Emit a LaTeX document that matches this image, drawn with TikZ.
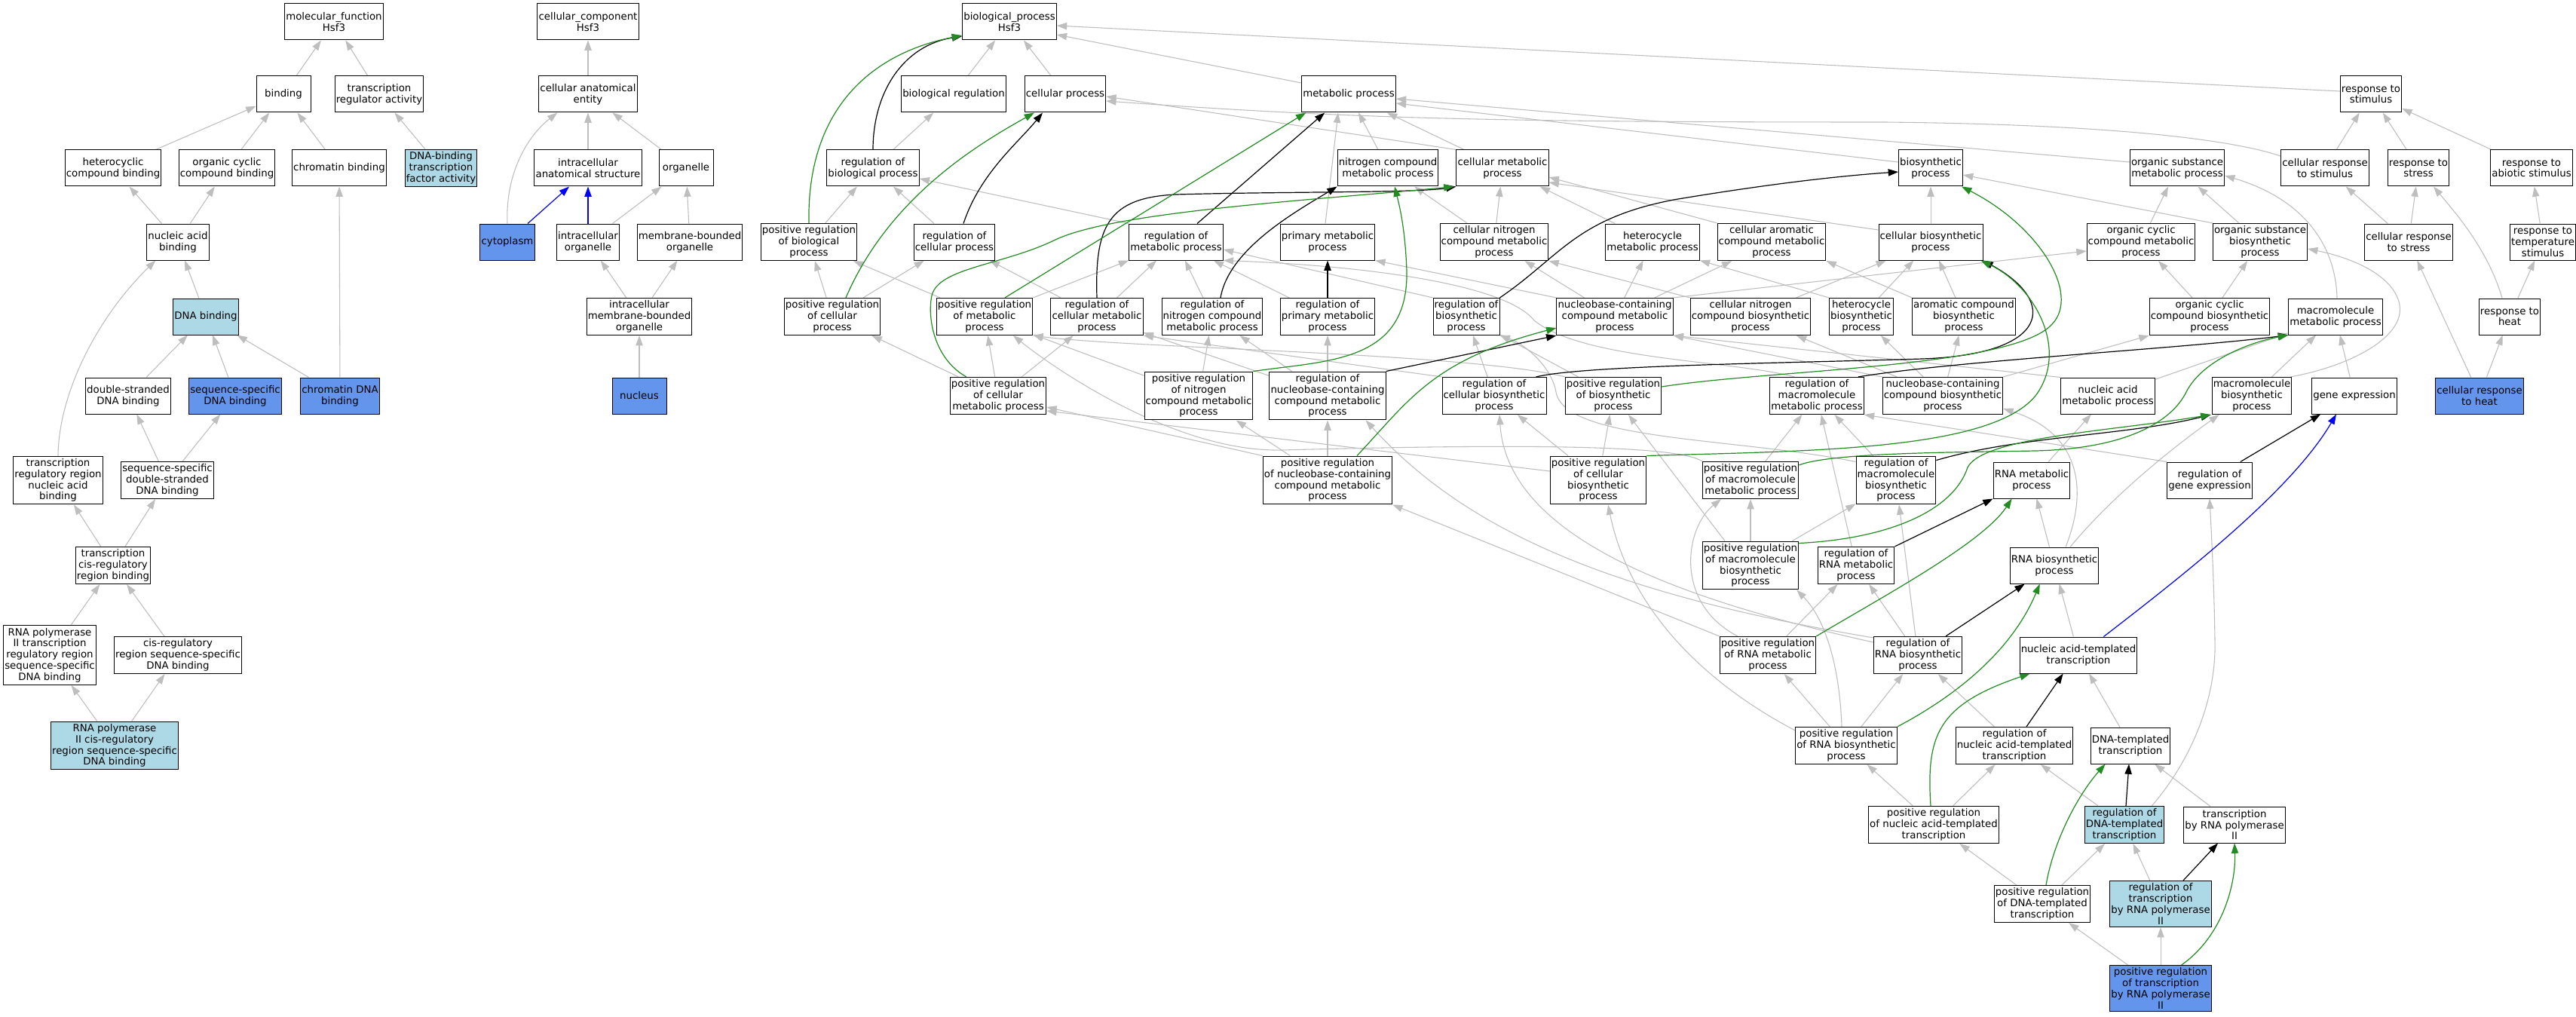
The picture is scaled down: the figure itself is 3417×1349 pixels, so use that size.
\documentclass[tikz,border=0pt]{standalone}
\usepackage{fontspec}
\setmainfont{DejaVu Sans}
\usetikzlibrary{arrows.meta,calc}
\definecolor{lightblue}{HTML}{ADD8E6}
\definecolor{cfblue}{HTML}{6495ED}
\definecolor{edgegray}{HTML}{BEBEBE}
\definecolor{fgreen}{HTML}{228B22}
\pgfdeclarelayer{bg}
\pgfsetlayers{bg,main}
\begin{document}
\begin{tikzpicture}[x=0.75bp,y=-0.75bp,
  box/.style={draw=black,line width=0.75bp,fill=white,rectangle,align=center,
    inner xsep=1.2bp,inner ysep=2.5bp,minimum width=54bp,minimum height=36bp,
    font=\fontsize{10bp}{11.1bp}\selectfont},
  lb/.style={box,fill=lightblue},
  db/.style={box,fill=cfblue},
  isa/.style={draw=edgegray,line width=0.8bp,-{Triangle[length=10bp,width=7bp]}},
  regk/.style={draw=black,line width=0.9bp,-{Triangle[length=10bp,width=7bp]}},
  preg/.style={draw=fgreen,line width=0.9bp,-{Triangle[length=10bp,width=7bp]}},
  partof/.style={draw=blue,line width=0.9bp,-{Triangle[length=10bp,width=7bp]}}]
\useasboundingbox (0,0) rectangle (3417,1349);
% ---------- R1
\node[box] (mf) at (443,29) {molecular\_function\\Hsf3};
\node[box] (cc) at (780,29) {cellular\_component\\Hsf3};
\node[box] (bp) at (1339,29) {biological\_process\\Hsf3};
% ---------- R2
\node[box] (bind) at (376,125) {binding};
\node[box] (tra) at (503,125) {transcription\\regulator activity};
\node[box] (cae) at (780,125) {cellular anatomical\\entity};
\node[box] (breg) at (1265,125) {biological regulation};
\node[box] (cp) at (1413,125) {cellular process};
\node[box] (mp) at (1789,125) {metabolic process};
\node[box] (rts) at (3145,125) {response to\\stimulus};
% ---------- R3
\node[box] (hcb) at (150,223) {heterocyclic\\compound binding};
\node[box] (ocb) at (301,223) {organic cyclic\\compound binding};
\node[box] (chb) at (450,223) {chromatin binding};
\node[lb] (dbtf) at (585,223) {DNA-binding\\transcription\\factor activity};
\node[box] (ias) at (780,223) {intracellular\\anatomical structure};
\node[box] (org) at (910,223) {organelle};
\node[box] (rbp) at (1158,223) {regulation of\\biological process};
\node[box] (ncmp) at (1841,223) {nitrogen compound\\metabolic process};
\node[box] (cmp) at (1993,223) {cellular metabolic\\process};
\node[box] (bsp) at (2561,223) {biosynthetic\\process};
\node[box] (osmp) at (2888,223) {organic substance\\metabolic process};
\node[box] (crs) at (3084,223) {cellular response\\to stimulus};
\node[box] (rst) at (3208,223) {response to\\stress};
\node[box] (ras) at (3358,223) {response to\\abiotic stimulus};
% ---------- R4
\node[box] (nab) at (236,321) {nucleic acid\\binding};
\node[db] (cyto) at (673,321) {cytoplasm};
\node[box] (io) at (780,321) {intracellular\\organelle};
\node[box] (mbo) at (915,321) {membrane-bounded\\organelle};
\node[box] (prbp) at (1073,321) {positive regulation\\of biological\\process};
\node[box] (rcp) at (1266,321) {regulation of\\cellular process};
\node[box] (rmp) at (1560,321) {regulation of\\metabolic process};
\node[box] (pmp) at (1761,321) {primary metabolic\\process};
\node[box] (cncmp) at (1982,321) {cellular nitrogen\\compound metabolic\\process};
\node[box] (hmp) at (2192,321) {heterocycle\\metabolic process};
\node[box] (camp) at (2350,321) {cellular aromatic\\compound metabolic\\process};
\node[box] (cbp) at (2561,321) {cellular biosynthetic\\process};
\node[box] (occmp) at (2840,321) {organic cyclic\\compound metabolic\\process};
\node[box] (osbp) at (2998,321) {organic substance\\biosynthetic\\process};
\node[box] (crstress) at (3195,321) {cellular response\\to stress};
\node[box] (rtemp) at (3373,321) {response to\\temperature\\stimulus};
% ---------- R5
\node[lb] (dnab) at (273,420) {DNA binding};
\node[box] (imbo) at (848,420) {intracellular\\membrane-bounded\\organelle};
\node[box] (prcp) at (1104,420) {positive regulation\\of cellular\\process};
\node[box] (prmp) at (1306,420) {positive regulation\\of metabolic\\process};
\node[box] (rcmp) at (1455,420) {regulation of\\cellular metabolic\\process};
\node[box] (rncmp) at (1608,420) {regulation of\\nitrogen compound\\metabolic process};
\node[box] (rpmp) at (1761,420) {regulation of\\primary metabolic\\process};
\node[box] (rbsp) at (1945,420) {regulation of\\biosynthetic\\process};
\node[box] (nccmp) at (2142,420) {nucleobase-containing\\compound metabolic\\process};
\node[box] (cncbp) at (2322,420) {cellular nitrogen\\compound biosynthetic\\process};
\node[box] (hbp) at (2469,420) {heterocycle\\biosynthetic\\process};
\node[box] (acbp) at (2605,420) {aromatic compound\\biosynthetic\\process};
\node[box] (occbp) at (2931,420) {organic cyclic\\compound biosynthetic\\process};
\node[box] (mmp) at (3098,420) {macromolecule\\metabolic process};
\node[box] (rheat) at (3329,420) {response to\\heat};
% ---------- R6
\node[box] (dsdb) at (170,525) {double-stranded\\DNA binding};
\node[db] (ssdb) at (312,525) {sequence-specific\\DNA binding};
\node[db] (cdb) at (451,525) {chromatin DNA\\binding};
\node[db] (nuc) at (848,525) {nucleus};
\node[box] (prcmp) at (1324,525) {positive regulation\\of cellular\\metabolic process};
\node[box] (prncmp) at (1590,525) {positive regulation\\of nitrogen\\compound metabolic\\process};
\node[box] (rnccmp) at (1761,525) {regulation of\\nucleobase-containing\\compound metabolic\\process};
\node[box] (rcbp) at (1982,525) {regulation of\\cellular biosynthetic\\process};
\node[box] (prbsp) at (2140,525) {positive regulation\\of biosynthetic\\process};
\node[box] (rmmp) at (2410,525) {regulation of\\macromolecule\\metabolic process};
\node[box] (ncbp) at (2577,525) {nucleobase-containing\\compound biosynthetic\\process};
\node[box] (nam) at (2796,525) {nucleic acid\\metabolic process};
\node[box] (mbp) at (2987,525) {macromolecule\\biosynthetic\\process};
\node[box] (ge) at (3123,525) {gene expression};
\node[db] (crheat) at (3289,525) {cellular response\\to heat};
% ---------- R7
\node[box] (trr) at (77,637) {transcription\\regulatory region\\nucleic acid\\binding};
\node[box] (ssds) at (222,637) {sequence-specific\\double-stranded\\DNA binding};
\node[box] (prnccmp) at (1761,637) {positive regulation\\of nucleobase-containing\\compound metabolic\\process};
\node[box] (prcbp) at (2120,637) {positive regulation\\of cellular\\biosynthetic\\process};
\node[box] (prmmp) at (2322,637) {positive regulation\\of macromolecule\\metabolic process};
\node[box] (rmbp) at (2515,637) {regulation of\\macromolecule\\biosynthetic\\process};
\node[box] (rnamp) at (2695,637) {RNA metabolic\\process};
\node[box] (rge) at (2931,637) {regulation of\\gene expression};
% ---------- R8
\node[box] (tcis) at (150,750) {transcription\\cis-regulatory\\region binding};
\node[box] (prmbp) at (2322,750) {positive regulation\\of macromolecule\\biosynthetic\\process};
\node[box] (rrnamp) at (2462,750) {regulation of\\RNA metabolic\\process};
\node[box] (rnabp) at (2725,750) {RNA biosynthetic\\process};
% ---------- R9
\node[box] (rp2tr) at (66,869) {RNA polymerase\\II transcription\\regulatory region\\sequence-specific\\DNA binding};
\node[box] (cisr) at (236,869) {cis-regulatory\\region sequence-specific\\DNA binding};
\node[box] (prrnamp) at (2345,869) {positive regulation\\of RNA metabolic\\process};
\node[box] (rrnabp) at (2544,869) {regulation of\\RNA biosynthetic\\process};
\node[box] (natt) at (2757,869) {nucleic acid-templated\\transcription};
% ---------- R10
\node[lb] (rp2cis) at (152,989) {RNA polymerase\\II cis-regulatory\\region sequence-specific\\DNA binding};
\node[box] (prrnabp) at (2449,989) {positive regulation\\of RNA biosynthetic\\process};
\node[box] (rnatt) at (2672,989) {regulation of\\nucleic acid-templated\\transcription};
\node[box] (dtt) at (2826,989) {DNA-templated\\transcription};
% ---------- R11
\node[box] (prnatt) at (2565,1094) {positive regulation\\of nucleic acid-templated\\transcription};
\node[lb] (rdtt) at (2818,1094) {regulation of\\DNA-templated\\transcription};
\node[box] (trp2) at (2964,1094) {transcription\\by RNA polymerase\\II};
% ---------- R12
\node[box] (prdtt) at (2709,1199) {positive regulation\\of DNA-templated\\transcription};
\node[lb] (rtrp2) at (2866,1199) {regulation of\\transcription\\by RNA polymerase\\II};
% ---------- R13
\node[db] (prtrp2) at (2866,1311) {positive regulation\\of transcription\\by RNA polymerase\\II};

\begin{pgfonlayer}{bg}
\fill[white] (0,0) rectangle (3417,1349);
% ===== molecular function
\foreach \a/\b in {bind/mf,tra/mf,hcb/bind,ocb/bind,chb/bind,dbtf/tra,nab/hcb,nab/ocb,
  dnab/nab,dsdb/dnab,ssdb/dnab,cdb/dnab,cdb/chb,ssds/dsdb,ssds/ssdb,tcis/trr,tcis/ssds,
  rp2tr/tcis,cisr/tcis,rp2cis/rp2tr,rp2cis/cisr}
  \draw[isa] (\a) -- (\b);
\draw[isa] (trr.north) .. controls (78,520) and (130,420) .. ($(nab.south west)+(12,0)$);
% ===== cellular component
\foreach \a/\b in {cae/cc,ias/cae,org/cae,io/org,mbo/org,imbo/io,imbo/mbo,nuc/imbo}
  \draw[isa] (\a) -- (\b);
\draw[isa] (cyto.north) .. controls (670,230) and (700,180) .. ($(cae.south west)+(25,0)$);
\draw[partof] ($(cyto.north)+(27,0)$) -- ($(ias.south)+(-25,0)$);
\draw[partof] (io) -- (ias);
% ===== biological process, straight is_a
\foreach \a/\b in {breg/bp,cp/bp,rbp/breg,prbp/rbp,rcp/rbp,prcp/prbp,prcp/rcp,prmp/prbp,
  prmp/rmp,rcmp/rcp,rcmp/rmp,rncmp/rmp,rpmp/rmp,ncmp/mp,cmp/mp,crs/rts,rst/rts,ras/rts,
  cncmp/ncmp,cncmp/cmp,hmp/cmp,cbp/bsp,occmp/osmp,osbp/osmp,crstress/crs,crstress/rst,
  rtemp/ras,nccmp/cncmp,nccmp/hmp,nccmp/camp,cncbp/cbp,hbp/cbp,acbp/cbp,occbp/occmp,
  occbp/osbp,rheat/rtemp,crheat/rheat,crheat/crstress,
  prcmp/prcp,prcmp/prmp,prcmp/rcmp,prncmp/prmp,prncmp/rncmp,rnccmp/rcmp,rnccmp/rncmp,
  rnccmp/rpmp,rcbp/rbsp,prbsp/rbsp,ncbp/cncbp,ncbp/hbp,ncbp/acbp,nam/mmp,mbp/mmp,ge/mmp,
  prnccmp/prncmp,prnccmp/rnccmp,prcbp/prbsp,prcbp/rcbp,prmmp/rmmp,rmbp/rmmp,rnamp/nam,
  prmbp/prmmp,prmbp/rmbp,rrnamp/rmmp,rnabp/rnamp,prrnamp/rrnamp,rrnabp/rrnamp,rrnabp/rmbp,
  natt/rnabp,prrnabp/prrnamp,prrnabp/rrnabp,rnatt/rrnabp,dtt/natt,prnatt/prrnabp,
  prnatt/rnatt,rdtt/rnatt,trp2/dtt,prdtt/prnatt,prdtt/rdtt,rtrp2/rdtt,prtrp2/prdtt,
  prtrp2/rtrp2}
  \draw[isa] (\a) -- (\b);
% is_a with chosen end points
\draw[isa] ($(mp.west)+(0,-15)$) -- ($(bp.east)+(0,17)$);
\draw[isa] ($(rts.west)+(0,-4)$) -- ($(bp.east)+(0,5)$);
\draw[isa] (rmp.north west) -- ($(rbp.east)+(0,14)$);
\draw[isa] (rbsp.north west) -- ($(rmp.east)+(0,10)$);
\draw[isa] ($(pmp.north)+(-3,0)$) -- ($(mp.south)+(-14,0)$);
\draw[isa] ($(bsp.west)+(0,-8)$) -- ($(mp.east)+(0,12)$);
\draw[isa] ($(osmp.west)+(0,-8)$) -- ($(mp.east)+(0,6)$);
\draw[isa] (cmp.north west) -- ($(cp.east)+(0,3)$);
\draw[isa] ($(crs.west)+(0,-16)$) .. controls (2960,185) and (2800,165) .. (2500,162)
   .. controls (2000,162) and (1800,158) .. ($(cp.east)+(0,9)$);
\draw[isa] (camp.north west) -- ($(cmp.east)+(0,12)$);
\draw[isa] ($(cbp.west)+(0,-16)$) -- ($(cmp.east)+(0,19)$);
\draw[isa] (osbp.north west) -- ($(bsp.east)+(0,9)$);
\draw[isa] (nccmp.north east) -- ($(occmp.west)+(0,12)$);
\draw[isa] (nccmp.north west) -- (pmp.south east);
\draw[isa] (cncbp.north west) -- (cncmp.south east);
\draw[isa] (hbp.north west) -- (hmp.south east);
\draw[isa] (acbp.north west) -- (camp.south east);
\draw[isa] ($(mmp.north)+(2,0)$) .. controls (3098,320) and (3050,262) .. ($(osmp.east)+(0,10)$);
\draw[isa] ($(rheat.north)+(-10,0)$) .. controls (3300,330) and (3255,280) .. ($(rst.south)+(20,0)$);
\draw[isa] (rcbp.north west) -- (rcmp.south east);
\draw[isa] (prbsp.north west) .. controls (1950,468) and (1500,462) .. (prmp.south east);
\draw[isa] ($(rmmp.north)+(-30,0)$) .. controls (2300,478) and (2100,478) .. (2035,425)
   .. controls (1995,375) and (1800,352) .. (rmp.south east);
\draw[isa] (ncbp.north west) -- (nccmp.south east);
\draw[isa] (ncbp.north east) -- (occbp.south west);
\draw[isa] (nam.north west) -- (nccmp.south east);
\draw[isa] ($(mbp.north east)+(-2,0)$) .. controls (3120,485) and (3195,445) .. (3182,400)
   .. controls (3170,360) and (3110,340) .. ($(osbp.east)+(0,9)$);
\draw[isa] (prnccmp.north west) -- ($(prcmp.east)+(0,15)$);
\draw[isa] ($(prcbp.west)+(0,-12)$) -- ($(prcmp.east)+(0,20)$);
\draw[isa] (prmmp.north west) .. controls (2220,585) and (1900,592) .. (1700,597)
   .. controls (1560,600) and (1400,490) .. ($(prmp.south)+(38,0)$);
\draw[isa] ($(rmbp.north west)+(0,8)$) .. controls (2300,580) and (2075,585) .. (2064,520)
   .. controls (2058,485) and (2020,455) .. (rbsp.south east);
\draw[isa] (rge.north west) -- (rmmp.south east);
\draw[isa] ($(prmbp.north)+(-34,0)$) -- ($(prbsp.south)+(20,0)$);
\draw[isa] ($(rnabp.north)+(15,0)$) .. controls (2770,650) and (2760,575) .. ($(ncbp.east)+(0,17)$);
\draw[isa] ($(rnabp.north)+(21,0)$) .. controls (2800,660) and (2880,595) .. ($(mbp.south west)+(10,0)$);
\draw[isa] ($(prrnamp.north)+(-40,0)$) .. controls (2220,800) and (2235,700) .. ($(prmmp.south)+(-39,0)$);
\draw[isa] (prrnamp.north west) -- (prnccmp.south east);
\draw[isa] ($(rrnabp.north west)+(0,8)$) .. controls (2250,800) and (2000,720) .. ($(rcbp.south)+(7,0)$);
\draw[isa] ($(rrnabp.north west)+(0,2)$) .. controls (2150,790) and (1950,710) .. ($(rnccmp.south east)+(-27,0)$);
\draw[isa] ($(prrnabp.north)+(-6,0)$) .. controls (2440,880) and (2420,820) .. ($(prmbp.south east)+(-3,0)$);
\draw[isa] ($(prrnabp.north west)+(0,5)$) .. controls (2250,900) and (2160,800) .. ($(prcbp.south)+(13,0)$);
\draw[isa] ($(rdtt.north east)+(-17,0)$) .. controls (2905,1010) and (2940,930) .. (2938,850)
   .. controls (2937,780) and (2934,720) .. (rge.south);
% ===== regulates (black)
\draw[regk] (rbp.north) .. controls (1158,120) and (1200,60) .. ($(bp.west)+(0,19)$);
\draw[regk] ($(rcp.north)+(12,0)$) .. controls (1300,230) and (1350,190) .. ($(cp.south)+(-30,0)$);
\draw[regk] ($(rmp.north)+(28,0)$) -- ($(mp.south west)+(31,0)$);
\draw[regk] (rcmp.north) .. controls (1452,300) and (1470,262) .. (1560,258)
   .. controls (1700,254) and (1880,256) .. (cmp.south west);
\draw[regk] ($(rncmp.north)+(11,0)$) .. controls (1630,330) and (1720,280) .. (ncmp.south west);
\draw[regk] (rpmp) -- (pmp);
\draw[regk] (rbsp.north east) .. controls (2070,340) and (2090,290) .. (2220,265)
   .. controls (2370,240) and (2460,232) .. ($(bsp.west)+(0,5)$);
\draw[regk] (rnccmp.north east) -- (nccmp.south west);
\draw[regk] ($(rcbp.north east)+(-14,0)$) .. controls (2100,485) and (2350,482) .. (2550,476)
   .. controls (2720,470) and (2730,400) .. (cbp.south east);
\draw[regk] ($(rmmp.north east)+(-8,0)$) .. controls (2600,478) and (2900,462) .. (mmp.south west);
\draw[regk] ($(rmbp.north east)+(0,6)$) .. controls (2680,578) and (2820,578) .. ($(mbp.south west)+(-1,0)$);
\draw[regk] ($(rge.north east)+(-16,0)$) -- ($(ge.south west)+(12,0)$);
\draw[regk] (rrnamp.north east) -- (rnamp.south west);
\draw[regk] ($(rrnabp.north)+(37,0)$) -- ($(rnabp.south west)+(20,0)$);
\draw[regk] ($(rnatt.north)+(16,0)$) -- ($(natt.south west)+(58,0)$);
\draw[regk] ($(rdtt.north)+(2,0)$) -- ($(dtt.south)+(-2,0)$);
\draw[regk] ($(rtrp2.north)+(30,0)$) -- ($(trp2.south)+(-22,0)$);
% ===== positively regulates (green)
\draw[preg] (prbp.north) .. controls (1070,150) and (1150,72) .. ($(bp.west)+(0,18)$);
\draw[preg] ($(prcp.north)+(18,0)$) .. controls (1180,260) and (1300,190) .. ($(cp.south)+(-41,0)$);
\draw[preg] ($(prmp.north)+(27,0)$) -- ($(mp.south west)+(6,0)$);
\draw[preg] ($(prcmp.north west)+(22,0)$) .. controls (1238,475) and (1230,420) .. (1236,392)
   .. controls (1245,355) and (1330,352) .. (1400,318)
   .. controls (1480,280) and (1750,265) .. ($(cmp.south west)+(-3,0)$);
\draw[preg] (prncmp.north east) .. controls (1760,478) and (1868,482) .. (1866,360)
   .. controls (1864,300) and (1855,268) .. ($(ncmp.south)+(9,0)$);
\draw[preg] ($(prnccmp.north)+(39,0)$) .. controls (1870,530) and (1900,478) .. ($(nccmp.west)+(0,15)$);
\draw[preg] (prcbp.north east) .. controls (2400,598) and (2640,598) .. (2700,525)
   .. controls (2745,465) and (2700,380) .. ($(cbp.south east)+(-3,0)$);
\draw[preg] ($(prbsp.east)+(0,-12)$) .. controls (2350,490) and (2670,488) .. (2722,430)
   .. controls (2760,390) and (2705,300) .. ($(bsp.south east)+(-2,0)$);
\draw[preg] ($(prmmp.north east)+(0,5)$) .. controls (2430,600) and (2600,600) .. (2700,598)
   .. controls (2820,595) and (2880,560) .. (2900,520)
   .. controls (2920,480) and (2980,455) .. (mmp.south west);
\draw[preg] ($(prmbp.north east)+(0,3)$) .. controls (2500,715) and (2590,680) .. (2610,620)
   .. controls (2630,580) and (2800,572) .. ($(mbp.south west)+(-1,0)$);
\draw[preg] (prrnamp.north east) .. controls (2500,790) and (2630,720) .. ($(rnamp.south west)+(25,0)$);
\draw[preg] (prrnabp.north east) .. controls (2600,920) and (2670,860) .. ($(rnabp.south west)+(40,0)$);
\draw[preg] ($(prnatt.north)+(-4,0)$) .. controls (2555,975) and (2570,935) .. ($(natt.south west)+(14,0)$);
\draw[preg] ($(prdtt.north)+(5,0)$) .. controls (2725,1110) and (2760,1050) .. ($(dtt.south west)+(20,0)$);
\draw[preg] ($(prtrp2.north east)+(-40,0)$) .. controls (2950,1240) and (2966,1170) .. (trp2.south);
% ===== part of (blue)
\draw[partof] ($(natt.north east)+(-45,0)$) .. controls (2900,760) and (3040,650) .. ($(ge.south)+(-24,0)$);
\end{pgfonlayer}
\end{tikzpicture}
\end{document}
